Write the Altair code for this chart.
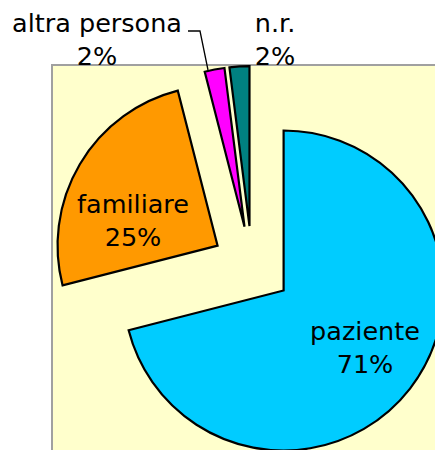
import math
import altair as alt
import pandas as pd

# ---- data ----
categories = ["paziente", "familiare", "altra persona", "n.r."]
values = [71, 25, 2, 2]
percent_labels = ["71%", "25%", "2%", "2%"]
colors = ["#00CCFF", "#FF9900", "#FF00FF", "#008080"]

# ---- layout (pixels in the view) ----
W, H = 427, 442
CX, CY = 244, 258          # pie centre
R = 160                    # pie radius
EXPLODE = 40               # explosion distance of every slice
label_x = [357, 125, 89, 267]
label_y = [332, 205, 24, 24]
leader_x = [180, 192, 200]
leader_y = [23, 23, 62]
FONT = "DejaVu Sans"

df = pd.DataFrame({"cat": categories, "value": values, "order": list(range(len(values)))})

arcs = (
    alt.Chart(df)
    .transform_joinaggregate(total="sum(value)")
    .transform_window(cum="sum(value)", sort=[alt.SortField("order")], frame=[None, 0])
    .transform_calculate(
        s="(datum.cum - datum.value) / datum.total",
        e="datum.cum / datum.total",
    )
    .transform_calculate(
        ex="sin((datum.s + datum.e) * PI)",
        ey="-cos((datum.s + datum.e) * PI)",
    )
    .mark_arc(stroke="black", strokeWidth=2.2, outerRadius=R, strokeJoin="miter")
    .encode(
        theta=alt.Theta("s:Q", scale=alt.Scale(domain=[0, 1], range=[0, 2 * math.pi]), stack=None),
        theta2="e:Q",
        x=alt.X("ex:Q", scale=alt.Scale(domain=[-1, 1], range=[CX - EXPLODE, CX + EXPLODE]), axis=None),
        y=alt.Y("ey:Q", scale=alt.Scale(domain=[-1, 1], range=[CY - EXPLODE, CY + EXPLODE]), axis=None),
        color=alt.Color("cat:N", scale=alt.Scale(domain=categories, range=colors), legend=None),
    )
)

bg = (
    alt.Chart(pd.DataFrame({"a": [0]}))
    .mark_rect(fill="#FFFFCC", stroke="#A0A0A0", strokeWidth=2)
    .encode(x=alt.value(44), x2=alt.value(W + 20), y=alt.value(57), y2=alt.value(H + 20))
)

lab_df = pd.DataFrame({
    "label": [c + "\n" + p for c, p in zip(categories, percent_labels)],
    "lx": label_x,
    "ly": label_y,
})
labels = (
    alt.Chart(lab_df)
    .mark_text(lineBreak="\n", font=FONT, fontSize=25.5, lineHeight=33, align="center",
               baseline="alphabetic", color="black")
    .encode(
        x=alt.X("lx:Q", scale=None, axis=None),
        y=alt.Y("ly:Q", scale=None, axis=None),
        text="label:N",
    )
)

lead_df = pd.DataFrame({"x": leader_x, "y": leader_y, "o": [0, 1, 2]})
leader = (
    alt.Chart(lead_df)
    .mark_line(color="black", strokeWidth=1.3)
    .encode(
        x=alt.X("x:Q", scale=None, axis=None),
        y=alt.Y("y:Q", scale=None, axis=None),
        order="o:Q",
    )
)

chart = (
    alt.layer(bg, arcs, leader, labels)
    .resolve_scale(x="independent", y="independent")
    .properties(width=W, height=H, padding=0, autosize="none", background="white")
    .configure_view(strokeWidth=0)
)

chart.save("out.html", embed_options={"renderer": "svg", "actions": False})
